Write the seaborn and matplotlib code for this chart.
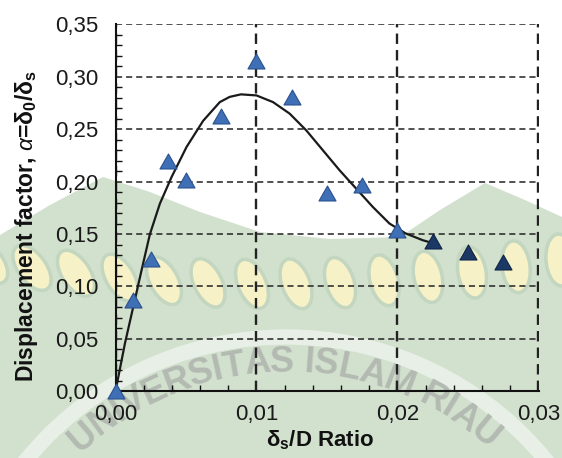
import matplotlib
matplotlib.use("Agg")
import numpy as np
import pandas as pd
import seaborn as sns
import matplotlib.pyplot as plt
from matplotlib.patches import Polygon, Ellipse, Arc
from matplotlib.path import Path
from matplotlib.ticker import MultipleLocator, FixedLocator, FixedFormatter

# ---- measured data -------------------------------------------------------
ratio = [0.0, 0.00125, 0.0025, 0.00375, 0.005, 0.0075, 0.01, 0.0125,
         0.015, 0.0175, 0.02, 0.0225, 0.025, 0.0275]
alpha_vals = [0.0, 0.087, 0.126, 0.220, 0.202, 0.263, 0.315, 0.281,
              0.189, 0.197, 0.154, 0.143, 0.133, 0.123]
shade = ["light"] * 11 + ["dark"] * 3

# trend curve
trend_x = [0.0, 0.00067, 0.00126, 0.00185, 0.00244, 0.00315, 0.00398,
           0.00504, 0.00622, 0.0074, 0.0081, 0.0089, 0.0100, 0.01118,
           0.01236, 0.01354, 0.01472, 0.0159, 0.01708, 0.01826, 0.01944,
           0.0206, 0.0218, 0.0226]
trend_y = [0.0, 0.0457, 0.0806, 0.1155, 0.1498, 0.179, 0.2044,
           0.233, 0.258, 0.2758, 0.2808, 0.2832, 0.2822, 0.2758,
           0.2648, 0.2488, 0.2298, 0.2108, 0.1933, 0.1758, 0.160,
           0.1505, 0.1441, 0.141]

x_ticks = [0.0, 0.01, 0.02, 0.03]
x_tick_labels = ["0,00", "0,01", "0,02", "0,03"]
y_ticks = [0.0, 0.05, 0.10, 0.15, 0.20, 0.25, 0.30, 0.35]
y_tick_labels = ["0,00", "0,05", "0,10", "0,15", "0,20", "0,25", "0,30", "0,35"]

# ---- style ---------------------------------------------------------------
sns.set_theme(style="white")
plt.rcParams["font.family"] = ["Liberation Sans", "DejaVu Sans"]
plt.rcParams["mathtext.fontset"] = "custom"
plt.rcParams["mathtext.rm"] = "Liberation Sans"
plt.rcParams["mathtext.it"] = "Liberation Sans:italic"
plt.rcParams["mathtext.bf"] = "Liberation Sans:bold"

W, H = 562, 458
fig = plt.figure(figsize=(W / 100, H / 100), dpi=100)
fig.patch.set_facecolor("white")

# ---- faint background emblem --------------------------------------------
bg = fig.add_axes([0, 0, 1, 1], zorder=0)
bg.set_xlim(0, W)
bg.set_ylim(H, 0)
bg.axis("off")

green_top = [(0, 235), (50, 205), (103, 177), (150, 192), (200, 212),
             (260, 232), (330, 239), (400, 237), (440, 210), (485, 183),
             (525, 200), (562, 217), (562, 458), (0, 458)]
bg.add_patch(Polygon(green_top, closed=True, facecolor="#d2e0ce",
                     edgecolor="none"))

for k in range(14):
    lx = -12 + 44 * k
    ly = 284 - 24 * ((lx - 270) / 290.0) ** 2
    bg.add_patch(Ellipse((lx, ly), width=52, height=28,
                         angle=68 + (lx - 270) * 0.06,
                         facecolor="#f7f1c8", edgecolor="#c3d6bf", lw=2.5))

cx, cy = 286, 673
bg.add_patch(Arc((cx, cy), 2 * 336, 2 * 336, theta1=180, theta2=360,
                 color="#edf2eb", lw=11, alpha=0.85))

word = "UNIVERSITAS ISLAM RIAU"
widths = {"U": .722, "N": .722, "I": .278, "V": .667, "E": .667, "R": .722,
          "S": .667, "T": .611, "A": .722, "L": .611, "M": .833, " ": .278}
em = 36.0
R = 311
total = sum(widths[c] for c in word) * em
pos = -total / 2.0
for c in word:
    w = widths[c] * em
    mid = pos + w / 2.0
    pos += w
    if c == " ":
        continue
    th = mid / R - np.radians(0.5)
    tx = cx + R * np.sin(th)
    ty = cy - R * np.cos(th)
    bg.text(tx, ty, c, fontsize=26, fontweight="bold", color="#aeb3ad",
            ha="center", va="center", rotation=-np.degrees(th), alpha=0.85)

# ---- main chart ----------------------------------------------------------
ax = fig.add_axes([115.5 / W, 1 - 391.3 / H, (539 - 115.5) / W, (391.3 - 23.8) / H],
                  zorder=2)
ax.set_facecolor("none")

df = pd.DataFrame({"ratio": ratio, "alpha": alpha_vals, "shade": shade})
trend = pd.DataFrame({"x": trend_x, "y": trend_y})

sns.lineplot(data=trend, x="x", y="y", ax=ax, color="#1a1a1a", lw=1.6,
             sort=False, zorder=3)

tri = Path([(-1.0, -0.88), (1.0, -0.88), (0.0, 0.88), (-1.0, -0.88)],
           [Path.MOVETO, Path.LINETO, Path.LINETO, Path.CLOSEPOLY])
sns.scatterplot(data=df[df.shade == "light"], x="ratio", y="alpha", ax=ax,
                marker=tri, s=150, color="#3f6fb4", edgecolor="#2a5290",
                linewidth=0.8, zorder=4, clip_on=False)
sns.scatterplot(data=df[df.shade == "dark"], x="ratio", y="alpha", ax=ax,
                marker=tri, s=150, color="#1c3864", edgecolor="#0f2448",
                linewidth=0.8, zorder=4, clip_on=False)

ax.set_xlim(0, 0.03005)
ax.set_ylim(0, 0.3505)

ax.xaxis.set_major_locator(FixedLocator(x_ticks))
ax.xaxis.set_major_formatter(FixedFormatter(x_tick_labels))
ax.yaxis.set_major_locator(FixedLocator(y_ticks))
ax.yaxis.set_major_formatter(FixedFormatter(y_tick_labels))
ax.xaxis.set_minor_locator(MultipleLocator(0.002))
ax.yaxis.set_minor_locator(MultipleLocator(0.01))

ax.set_axisbelow(True)
ax.yaxis.grid(True, which="major", color="#222222", lw=1.1,
              linestyle=(0, (4, 2.6)))
ax.xaxis.grid(True, which="major", color="#222222", lw=1.7,
              linestyle=(0, (4.4, 2.6)))

for side in ("top", "right"):
    ax.spines[side].set_visible(False)
for side in ("left", "bottom"):
    ax.spines[side].set_color("#111111")
    ax.spines[side].set_linewidth(1.5)

ax.tick_params(axis="y", which="major", direction="out", length=6, width=1.4,
               color="#111111", pad=6, labelsize=16, labelcolor="#1a1a1a")
ax.tick_params(axis="x", which="major", direction="inout", length=8, width=1.4,
               color="#111111", pad=5, labelsize=16, labelcolor="#1a1a1a")
ax.tick_params(which="minor", direction="in", length=4, width=1.0,
               color="#111111", left=True, bottom=True)

ax.set_xlabel(r"δ$_\mathbf{s}$/D Ratio", fontsize=16, fontweight="bold",
              color="#111111", va="center")
ax.xaxis.set_label_coords(0.483, -0.1325)
ax.set_ylabel(r"Displacement factor, $\mathit{α}$=δ$_\mathbf{0}$/δ$_\mathbf{s}$",
              fontsize=16.5, fontweight="bold", color="#111111", va="center")
ax.yaxis.set_label_coords(-0.209, 0.45)

fig.savefig("out.png", dpi=100)
